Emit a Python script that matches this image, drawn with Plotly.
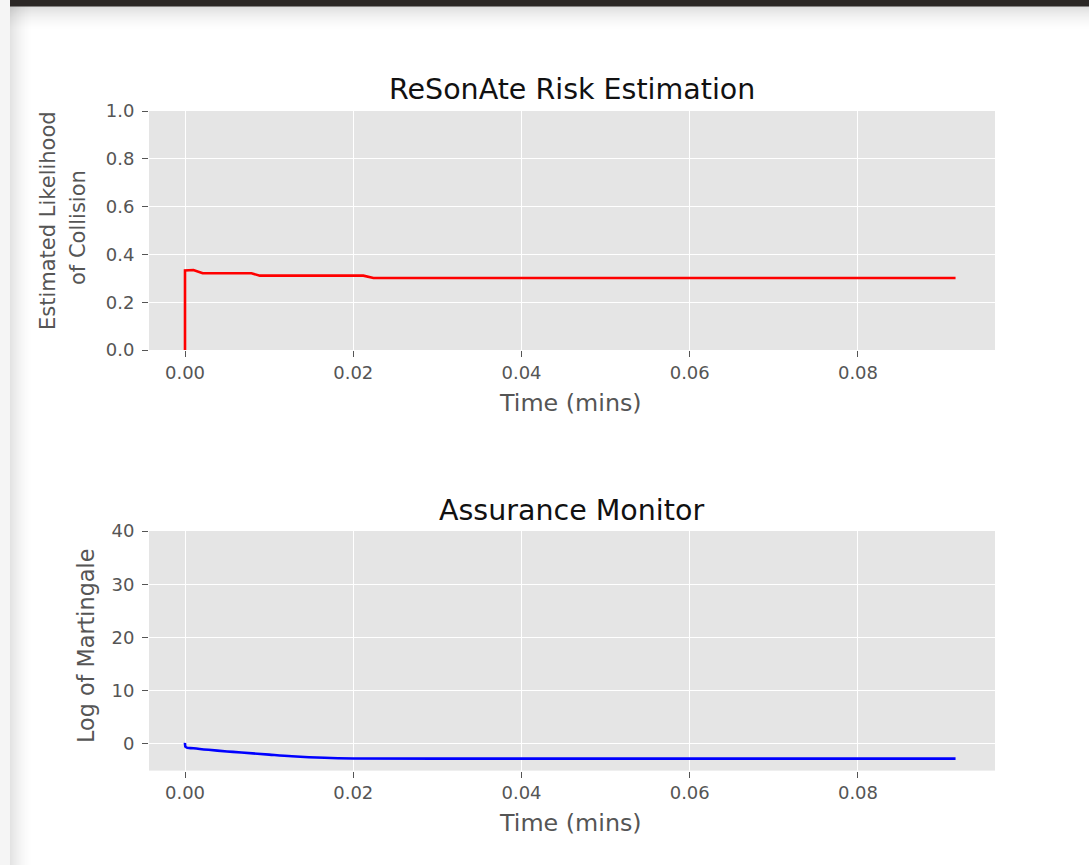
import plotly.graph_objects as go

# ---- data ----
risk_time = [0.0, 0.0, 0.0010, 0.0021, 0.0079, 0.0089, 0.0212, 0.0224, 0.0916]
risk_value = [0.0, 0.333, 0.335, 0.321, 0.321, 0.311, 0.311, 0.301, 0.301]

mart_time = [0.0, 0.0001, 0.0010, 0.0028, 0.0050, 0.0067, 0.0100, 0.0127, 0.0166, 0.0200, 0.0300, 0.0916]
mart_value = [0.2, -0.6, -0.8, -1.1, -1.4, -1.6, -2.0, -2.3, -2.6, -2.72, -2.75, -2.75]

x_ticks = [0.0, 0.02, 0.04, 0.06, 0.08]
x_tick_labels = ["0.00", "0.02", "0.04", "0.06", "0.08"]
risk_y_ticks = [0.0, 0.2, 0.4, 0.6, 0.8, 1.0]
risk_y_tick_labels = ["0.0", "0.2", "0.4", "0.6", "0.8", "1.0"]
mart_y_ticks = [0, 10, 20, 30, 40]
mart_y_tick_labels = ["0", "10", "20", "30", "40"]

W, H = 1089, 865
FONT = "DejaVu Sans"
GREY = "#555555"


def px(x):
    return x / W


def py(y):
    return 1 - y / H


fig = go.Figure()
fig.add_trace(go.Scatter(x=risk_time, y=risk_value, mode="lines",
                         line=dict(color="#ff0000", width=2.6), xaxis="x", yaxis="y",
                         showlegend=False))
fig.add_trace(go.Scatter(x=mart_time, y=mart_value, mode="lines",
                         line=dict(color="#0000ff", width=2.6, shape="spline"), xaxis="x2", yaxis="y2",
                         showlegend=False))

xdom = [px(149), px(995)]
axis_common = dict(
    showgrid=True, gridcolor="white", gridwidth=1.3, zeroline=False,
    ticks="outside", ticklen=6, tickwidth=1.3, tickcolor=GREY,
    tickfont=dict(family=FONT, size=18, color=GREY),
    showline=False, automargin=False,
)

fig.update_layout(
    width=W, height=H,
    margin=dict(l=0, r=0, t=0, b=0),
    paper_bgcolor="white", plot_bgcolor="#e5e5e5",
    showlegend=False,
    xaxis=dict(domain=xdom, anchor="y", range=[-0.00428, 0.09629],
               tickvals=x_ticks, ticktext=x_tick_labels, **axis_common),
    yaxis=dict(domain=[py(350), py(111)], anchor="x", range=[0, 1], ticklabelstandoff=4,
               tickvals=risk_y_ticks, ticktext=risk_y_tick_labels, **axis_common),
    xaxis2=dict(domain=xdom, anchor="y2", range=[-0.00428, 0.09629],
                tickvals=x_ticks, ticktext=x_tick_labels, **axis_common),
    yaxis2=dict(domain=[py(770.6), py(531)], anchor="x2", range=[-5, 40], ticklabelstandoff=4,
                tickvals=mart_y_ticks, ticktext=mart_y_tick_labels, **axis_common),
)

annotations = [
    dict(text="ReSonAte Risk Estimation", x=px(571.5), y=py(89), xanchor="center", yanchor="middle",
         font=dict(family=FONT, size=28.5, color="#111111")),
    dict(text="Assurance Monitor", x=px(571.5), y=py(510), xanchor="center", yanchor="middle",
         font=dict(family=FONT, size=28.5, color="#111111")),
    dict(text="Time (mins)", x=px(570.5), y=py(403), xanchor="center", yanchor="middle",
         font=dict(family=FONT, size=23.8, color=GREY)),
    dict(text="Time (mins)", x=px(570.5), y=py(823), xanchor="center", yanchor="middle",
         font=dict(family=FONT, size=23.8, color=GREY)),
    dict(text="Estimated Likelihood", x=px(48), y=py(221), xanchor="center", yanchor="middle",
         textangle=-90, font=dict(family=FONT, size=21, color=GREY)),
    dict(text="of Collision", x=px(78), y=py(228), xanchor="center", yanchor="middle",
         textangle=-90, font=dict(family=FONT, size=21, color=GREY)),
    dict(text="Log of Martingale", x=px(86), y=py(646), xanchor="center", yanchor="middle",
         textangle=-90, font=dict(family=FONT, size=22.3, color=GREY)),
]
for a in annotations:
    a.update(xref="paper", yref="paper", showarrow=False)
fig.update_layout(annotations=annotations)

# screenshot frame decorations (window edges)
shapes = []
shapes.append(dict(type="rect", xref="paper", yref="paper", x0=0, x1=px(10),
                   y0=0, y1=1, fillcolor="rgba(0,0,0,0.04)", line=dict(width=0), layer="below"))
n_left = 22
for i in range(n_left):
    a = 0.11 * (1 - i / n_left) ** 1.6
    shapes.append(dict(type="rect", xref="paper", yref="paper", x0=px(10 + i), x1=px(11 + i),
                       y0=0, y1=py(6), fillcolor=f"rgba(0,0,0,{a:.4f})", line=dict(width=0),
                       layer="below"))
n_top = 24
for i in range(n_top):
    a = 0.13 * (1 - i / n_top) ** 1.6
    shapes.append(dict(type="rect", xref="paper", yref="paper", x0=px(10), x1=1,
                       y0=py(7 + i), y1=py(6 + i), fillcolor=f"rgba(0,0,0,{a:.4f})", line=dict(width=0),
                       layer="below"))
shapes.append(dict(type="rect", xref="paper", yref="paper", x0=px(10), x1=1,
                   y0=py(6.5), y1=1, fillcolor="#2b2725", line=dict(width=0), layer="above"))
fig.update_layout(shapes=shapes)

fig.write_html("out.html")
